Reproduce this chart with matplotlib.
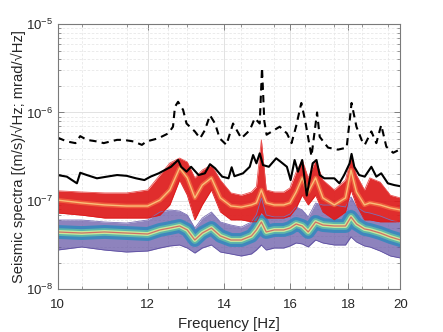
import matplotlib
matplotlib.use("Agg")
import matplotlib.pyplot as plt
import numpy as np
from matplotlib.ticker import FixedLocator, NullFormatter, LogLocator

plt.rcParams['font.family'] = ['Liberation Sans', 'DejaVu Sans']
plt.rcParams['mathtext.fontset'] = 'custom'
plt.rcParams['mathtext.rm'] = 'Liberation Sans'

# black dashed spectrum
dash_freq = [10.0, 10.19, 10.37, 10.47, 10.61, 10.83, 10.98, 11.13, 11.28, 11.43, 11.66, 11.86, 11.97,
             12.26, 12.51, 12.63, 12.68, 12.76, 12.89, 12.98, 13.20, 13.34, 13.47, 13.61, 13.75, 13.88,
             14.07, 14.26, 14.50, 14.75, 14.90, 15.05, 15.12, 15.19, 15.26, 15.67, 15.90, 16.05, 16.20,
             16.37, 16.50, 16.71, 16.90, 16.99, 17.28, 17.63, 17.94, 18.05, 18.12, 18.30, 18.49, 18.61,
             18.86, 19.05, 19.24, 19.44, 19.71, 19.97]
dash_amp = np.array([5.2, 4.7, 4.5, 5.4, 4.9, 4.7, 4.5, 4.7, 4.9, 4.9, 4.7, 4.3, 4.7,
                     5.1, 5.8, 6.9, 11.6, 13.2, 10.7, 7.5, 6.1, 5.1, 6.3, 9.3, 7.5, 5.1,
                     4.3, 7.5, 5.1, 6.3, 8.6, 7.5, 32.0, 8.0, 5.6, 6.9, 5.8, 4.5, 7.0,
                     12.8, 8.0, 3.2, 10.0, 5.3, 4.0, 3.8, 4.0, 8.0, 12.8, 6.9, 4.9, 4.3,
                     6.1, 4.5, 7.2, 4.1, 3.5, 3.8]) * 1e-7

# black solid spectrum
solid_freq = [10.0, 10.19, 10.40, 10.47, 10.61, 10.83, 11.05, 11.28, 11.50, 11.72, 11.92, 12.07,
              12.27, 12.42, 12.58, 12.76, 12.84, 12.98, 13.10, 13.30, 13.47, 13.61, 13.75, 13.95,
              14.13, 14.22, 14.30, 14.55, 14.75, 14.85, 14.95, 15.05, 15.15, 15.33, 15.56, 15.70,
              15.90, 16.02, 16.15, 16.26, 16.40, 16.55, 16.75, 16.88, 16.99, 17.15, 17.50, 17.68,
              17.85, 18.05, 18.12, 18.22, 18.40, 18.61, 18.86, 19.05, 19.24, 19.50, 19.75, 19.97]
solid_amp = np.array([1.96, 1.88, 1.58, 2.08, 1.96, 1.80, 1.88, 1.96, 1.92, 1.80, 1.72, 1.88,
                      2.05, 2.23, 2.43, 2.90, 2.43, 2.14, 2.43, 1.96, 2.05, 2.60, 2.34, 1.88,
                      1.80, 2.40, 1.90, 2.05, 2.43, 3.30, 2.66, 3.45, 2.54, 2.43, 3.03, 2.77,
                      2.43, 1.72, 2.90, 2.14, 2.90, 1.15, 2.66, 2.90, 1.96, 1.80, 1.80, 1.58,
                      1.96, 2.66, 3.40, 2.43, 1.96, 1.88, 2.43, 1.88, 2.05, 1.58, 1.51, 1.47]) * 1e-7

# spread of the two groups of spectra (top / most dense / bottom)
band_freq = [10.0, 10.5, 11.0, 11.5, 12.0, 12.3, 12.55, 12.8, 13.0, 13.2, 13.4, 13.65, 13.9, 14.2,
             14.5, 14.8, 14.95, 15.1, 15.25, 15.5, 15.8, 16.0, 16.2, 16.4, 16.6, 16.85, 17.1, 17.5,
             17.9, 18.1, 18.3, 18.6, 18.8, 19.2, 19.6, 20.0]

upper_top = np.array([1.30, 1.26, 1.23, 1.23, 1.33, 1.96, 2.68, 3.05, 2.75, 1.82, 2.23, 2.55, 1.72, 1.23,
                      1.16, 1.26, 1.45, 4.9, 1.33, 1.26, 1.26, 1.40, 2.12, 2.90, 1.82, 2.90, 1.72, 1.33,
                      1.72, 3.13, 1.96, 1.33, 1.82, 1.63, 1.16, 1.08]) * 1e-7
upper_core = np.array([1.02, 0.95, 0.90, 0.875, 0.875, 1.02, 1.33, 2.36, 1.82, 1.08, 1.51, 1.82, 1.08, 0.875,
                       0.85, 0.90, 0.95, 1.33, 0.95, 0.90, 0.90, 0.95, 1.26, 1.82, 1.26, 1.82, 1.08, 0.90,
                       1.08, 2.23, 1.26, 0.90, 0.95, 0.90, 0.83, 0.79]) * 1e-7
upper_bot = np.array([0.73, 0.69, 0.64, 0.64, 0.64, 0.69, 0.90, 1.72, 1.16, 0.61, 0.90, 1.33, 0.75, 0.61,
                      0.61, 0.58, 0.58, 0.75, 0.64, 0.64, 0.64, 0.675, 0.83, 1.16, 0.90, 1.16, 0.75, 0.61,
                      0.75, 1.33, 0.90, 0.61, 0.61, 0.58, 0.58, 0.58]) * 1e-7

lower_top = np.array([6.08, 6.08, 5.77, 5.62, 6.08, 7.48, 7.89, 7.68, 6.92, 4.93, 6.40, 7.48, 5.77, 5.33,
                      5.06, 5.77, 7.0, 10.8, 6.92, 6.58, 6.58, 7.10, 8.53, 7.89, 6.58, 9.46, 8.97, 8.97,
                      8.53, 11.1, 8.53, 7.48, 7.30, 6.75, 6.08, 5.62]) * 1e-8
lower_core = np.array([4.45, 4.33, 4.45, 4.33, 4.22, 4.69, 4.93, 5.20, 4.69, 3.61, 4.33, 4.93, 4.01, 3.61,
                       3.61, 4.01, 4.69, 5.77, 4.45, 4.69, 4.69, 4.93, 5.48, 5.20, 4.45, 5.77, 5.33, 5.20,
                       5.20, 6.58, 5.48, 4.81, 4.69, 4.33, 3.91, 3.61]) * 1e-8
lower_bot = np.array([2.78, 3.01, 2.78, 2.64, 2.71, 2.93, 3.09, 3.17, 2.93, 2.57, 2.93, 3.17, 2.64, 2.51,
                      2.38, 2.51, 2.78, 3.17, 2.78, 2.93, 2.93, 3.09, 3.34, 3.26, 3.01, 3.61, 3.34, 3.17,
                      3.17, 3.91, 3.43, 3.09, 3.01, 2.71, 2.38, 2.26]) * 1e-8

xticks = [10, 12, 14, 16, 18, 20]
xminor = [10.5, 11.5, 12.5, 13, 14.5, 15.5, 16.5, 17.5, 18.5, 19.5]

fig = plt.figure(figsize=(4.43, 3.32), dpi=100)
ax = fig.add_axes([0.1298, 0.1286, 0.774, 0.799])
ax.set_xscale('log')
ax.set_yscale('log')

# lower group (spectral colours)
ax.fill_between(band_freq, lower_bot, lower_top, color='#5e4fa2', alpha=0.7, lw=0)
ax.plot(band_freq, lower_top, color='#7b6fb5', lw=0.6)
ax.plot(band_freq, lower_bot, color='#5e4fa2', lw=0.6)
ax.plot(band_freq, lower_core, color='#3288bd', lw=10, alpha=0.85)
ax.plot(band_freq, lower_core, color='#66c2a5', lw=5.5, alpha=0.8)
ax.plot(band_freq, lower_core, color='#e6f598', lw=2.8, alpha=0.8)
ax.plot(band_freq, lower_core, color='#d53e4f', lw=0.9, alpha=0.7)

# upper group (red)
ax.fill_between(band_freq, upper_bot, upper_top, color='#de1b1b', alpha=0.92, lw=0)
ax.plot(band_freq, upper_top, color='#e8504f', lw=0.6)
ax.plot(band_freq, upper_bot, color='#de1b1b', lw=0.6)
ax.plot(band_freq, upper_core, color='#f46d43', lw=3.2, alpha=0.75)
ax.plot(band_freq, upper_core, color='#fee08b', lw=1.0, alpha=0.75)

ax.plot(solid_freq, solid_amp, color='black', lw=1.5)
ax.plot(dash_freq, dash_amp, color='black', lw=1.5, ls=(0, (3.5, 2.5)))

ax.set_xlim(10, 20)
ax.set_ylim(1e-8, 1e-5)
ax.xaxis.set_major_locator(FixedLocator(xticks))
ax.xaxis.set_minor_locator(FixedLocator(xminor))
ax.set_xticklabels([str(t) for t in xticks])
ax.xaxis.set_minor_formatter(NullFormatter())
ax.yaxis.set_major_locator(LogLocator(base=10, numticks=10))
ax.yaxis.set_minor_locator(LogLocator(base=10, subs=np.arange(2, 10), numticks=20))
ax.yaxis.set_minor_formatter(NullFormatter())

ax.grid(which='major', color='#e2e2e2', lw=0.7, ls='-')
ax.grid(which='minor', color='#e8e8e8', lw=0.6, ls=(0, (3, 2)))
ax.set_axisbelow(True)

ax.tick_params(which='both', direction='in', top=True, right=True, color='#6f6f6f',
               labelcolor='#262626', labelsize=9.5)
ax.tick_params(axis='x', pad=7)
ax.tick_params(axis='y', pad=3)
ax.tick_params(which='major', length=4, width=0.6)
ax.tick_params(which='minor', length=2, width=0.5)
for s in ax.spines.values():
    s.set_color('#7a7a7a')
    s.set_linewidth(0.8)

ax.set_xlabel('Frequency [Hz]', fontsize=10.8, color='#262626', labelpad=4)
ax.set_ylabel('Seismic spectra [(m/s)/\u221aHz; mrad/\u221aHz]', fontsize=10.6, color='#262626', labelpad=0.5)

fig.savefig('out.png', dpi=100)
